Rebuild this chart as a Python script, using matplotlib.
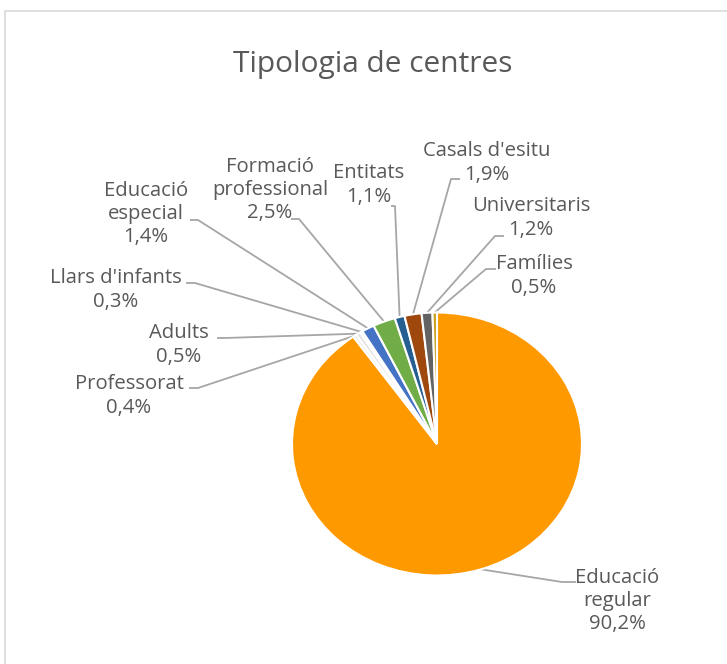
import matplotlib
matplotlib.use('Agg')
import matplotlib.pyplot as plt
import numpy as np
from matplotlib.patches import Rectangle

# ---- data ----
categories = ['Educació regular', 'Professorat', 'Adults', "Llars d'infants",
              'Educació especial', 'Formació professional', 'Entitats',
              "Casals d'esitu", 'Universitaris', 'Famílies']
label_names = ['Educació\nregular', 'Professorat', 'Adults', "Llars d'infants",
               'Educació\nespecial', 'Formació\nprofessional', 'Entitats',
               "Casals d'esitu", 'Universitaris', 'Famílies']
values = [90.2, 0.4, 0.5, 0.3, 1.4, 2.5, 1.1, 1.9, 1.2, 0.5]
colors = ['#FF9900', '#EDEDED', '#E4E4E4', '#F2F2F2', '#4472C4', '#70AD47',
          '#255E91', '#9E480E', '#636363', '#C9A227']
title = 'Tipologia de centres'

# ---- layout (pixels) ----
W, H = 727, 664
CX, CY = 437, 444
RX, RY = 145, 131.5
# label text centre (x, y) and leader line end / elbow (pixels)
label_pos = [(617, 601), (129, 396), (179, 345), (116, 290), (146, 214),
             (270, 190), (369, 185), (487, 163), (531, 218), (534, 276)]
leader_end = [(576, 582), (189, 388), (217, 338), (186, 283), (190, 220),
              (291, 219), (391, 206), (460, 179), (504, 236), (496, 269)]
leader_elbow = [(562, 582), (198, 388), (225, 338), (195, 283), (198, 220),
                (299, 219), (395, 206), (451, 179), (495, 236), (486, 269)]

TEXT = '#595959'
FONT = 'Open Sans'

fig = plt.figure(figsize=(W / 100, H / 100), dpi=100)
ax = fig.add_axes([0, 0, 1, 1])

wedges, _ = ax.pie(values, colors=colors, startangle=90, counterclock=False,
                   wedgeprops=dict(edgecolor='white', linewidth=1.5))
ax.set_aspect('auto')
ax.set_xlim(-CX / RX, (W - CX) / RX)
ax.set_ylim((CY - H) / RY, CY / RY)
ax.axis('off')


def px2d(px, py):
    return ((px - CX) / RX, (CY - py) / RY)


def fmt(v):
    return f'{v:.1f}'.replace('.', ',') + '%'


for i, w in enumerate(wedges):
    ang = np.deg2rad((w.theta1 + w.theta2) / 2)
    p0 = (np.cos(ang), np.sin(ang))
    e = px2d(*leader_elbow[i])
    t = px2d(*leader_end[i])
    ax.plot([p0[0], e[0], t[0]], [p0[1], e[1], t[1]], color='#A6A6A6',
            lw=1.3, solid_capstyle='butt', zorder=0)
    lx, ly = px2d(*label_pos[i])
    ax.text(lx, ly, f'{label_names[i]}\n{fmt(values[i])}', ha='center',
            va='center', fontsize=14.6, color=TEXT, family=FONT,
            linespacing=1.22, multialignment='center')

tx, ty = px2d(373, 72)
ax.text(tx, ty, title, ha='center', va='baseline', fontsize=21.5,
        color=TEXT, family=FONT)

fig.patches.append(Rectangle((5 / W, -0.1), 1.2, (H - 11) / H + 0.1,
                             transform=fig.transFigure, fill=False,
                             edgecolor='#D9D9D9', lw=1.2))

fig.savefig('out.png', dpi=100)
